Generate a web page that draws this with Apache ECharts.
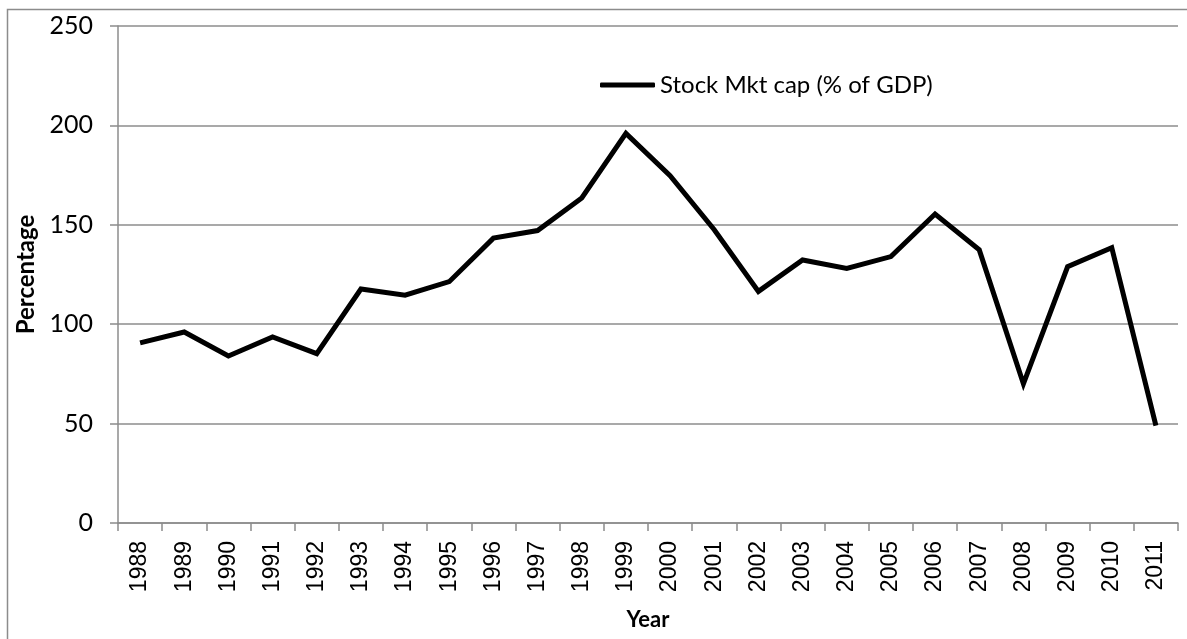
<!DOCTYPE html>
<html>
<head>
<meta charset="utf-8">
<script src="https://cdn.jsdelivr.net/npm/echarts@6/dist/echarts.min.js"></script>
<style>
  html, body { margin: 0; padding: 0; background: #fff; }
  #chart { width: 1187px; height: 639px; }
</style>
</head>
<body>
<div id="chart"></div>
<script>
const years = ["1988", "1989", "1990", "1991", "1992", "1993", "1994", "1995",
  "1996", "1997", "1998", "1999", "2000", "2001", "2002", "2003", "2004",
  "2005", "2006", "2007", "2008", "2009", "2010", "2011"];
const mktCap = [90.6, 96.1, 84.0, 93.6, 85.2, 117.7, 114.6, 121.4,
  143.3, 147.1, 163.5, 196.0, 174.7, 147.5, 116.5, 132.3, 128.1,
  134.0, 155.4, 137.4, 70.0, 128.9, 138.5, 49.0];
const seriesName = "Stock Mkt cap (% of GDP)";

const chart = echarts.init(document.getElementById("chart"));

const gridColor = "#8c8c8c";

chart.setOption({
  animation: false,
  // outer chart border
  graphic: [{
    type: "rect",
    shape: { x: 7.5, y: 9.5, width: 1300, height: 800 },
    style: { fill: "none", stroke: gridColor, lineWidth: 1.5 },
    silent: true
  }],
  legend: {
    orient: "horizontal",
    left: 595,
    top: 68,
    itemWidth: 55,
    itemHeight: 5,
    data: [{ name: seriesName, icon: "roundRect" }],
    textStyle: { fontFamily: "Lato", fontSize: 24, color: "#000" }
  },
  grid: { left: 118, right: 9, top: 26, bottom: 116 },
  xAxis: {
    type: "category",
    data: years,
    boundaryGap: true,
    name: "Year",
    nameLocation: "middle",
    nameGap: 86,
    nameTextStyle: { fontFamily: "Lato", fontWeight: "bold", fontSize: 22, color: "#000" },
    axisLine: { lineStyle: { color: gridColor, width: 1.5 } },
    axisTick: { show: true, length: 8, lineStyle: { color: gridColor, width: 1.5 } },
    axisLabel: {
      rotate: 90,
      margin: 18,
      fontFamily: "Liberation Sans",
      fontSize: 23,
      color: "#000",
      interval: 0
    }
  },
  yAxis: {
    type: "value",
    min: 0,
    max: 250,
    interval: 50,
    name: "Percentage",
    nameLocation: "middle",
    nameGap: 74,
    nameTextStyle: { fontFamily: "Lato", fontWeight: "bold", fontSize: 24, color: "#000" },
    axisLine: { show: true, lineStyle: { color: gridColor, width: 1.5 } },
    axisTick: { show: true, length: 8, lineStyle: { color: gridColor, width: 1.5 } },
    axisLabel: { margin: 25, fontFamily: "Lato", fontSize: 25, color: "#000" },
    splitLine: { lineStyle: { color: gridColor, width: 1.5 } }
  },
  series: [{
    name: seriesName,
    type: "line",
    data: mktCap,
    showSymbol: false,
    symbol: "none",
    lineStyle: { color: "#000", width: 5, join: "miter" },
    itemStyle: { color: "#000" }
  }]
});
</script>
</body>
</html>
